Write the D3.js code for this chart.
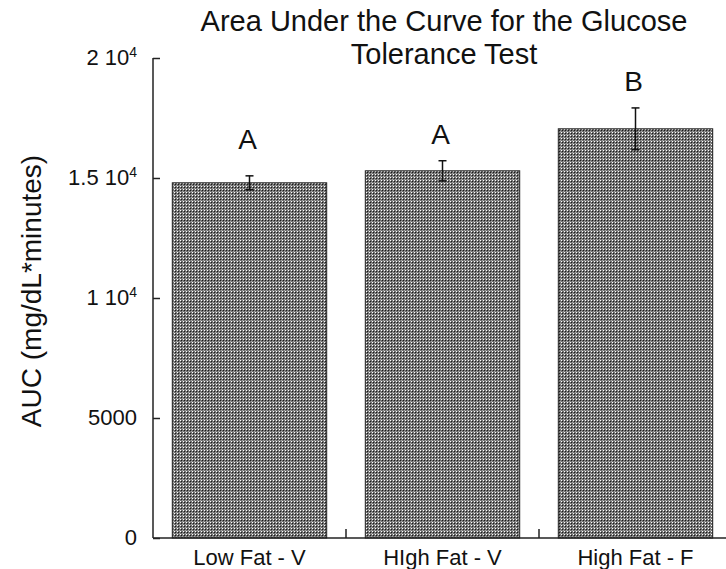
<!DOCTYPE html>
<html>
<head>
<meta charset="utf-8">
<script src="https://cdn.jsdelivr.net/npm/d3@7"></script>
<style>
  body { margin: 0; background: #fff; }
  text { font-family: "Liberation Sans", Arial, Helvetica, sans-serif; fill: #111; }
</style>
</head>
<body>
<script>
// chart data
const groups = ['Low Fat - V', 'HIgh Fat - V', 'High Fat - F'];
const auc = [14800, 15300, 17050];
const sem = [290, 420, 870];
const letters = ['A', 'A', 'B'];
const letterLevels = [16200, 16420, 18620];
const yTicks = [0, 5000, 10000, 15000, 20000];
const titleLines = ['Area Under the Curve for the Glucose', 'Tolerance Test'];

const width = 726;
const height = 569;

const svg = d3.select('body').append('svg')
    .attr('width', width)
    .attr('height', height);

// fine checkered fill like the original
const pat = svg.append('defs').append('pattern')
    .attr('id', 'dots')
    .attr('width', 3)
    .attr('height', 3)
    .attr('patternUnits', 'userSpaceOnUse')
    .attr('shape-rendering', 'crispEdges');
pat.append('rect').attr('width', 3).attr('height', 3).attr('fill', '#707070');
pat.append('rect').attr('x', 0).attr('y', 0).attr('width', 1).attr('height', 1).attr('fill', '#ffffff');
pat.append('rect').attr('x', 1).attr('y', 1).attr('width', 1).attr('height', 1).attr('fill', '#1a1a1a');
pat.append('rect').attr('x', 2).attr('y', 2).attr('width', 1).attr('height', 1).attr('fill', '#a8a8a8');

const x = d3.scaleBand()
    .domain(groups)
    .range([153, 732])
    .paddingInner(0.2)
    .paddingOuter(0.1);

const y = d3.scaleLinear()
    .domain([0, 20000])
    .range([538, 58]);

// bars
svg.append('g').selectAll('rect')
    .data(groups)
    .enter().append('rect')
    .attr('x', d => x(d))
    .attr('y', (d, i) => y(auc[i]))
    .attr('width', x.bandwidth())
    .attr('height', (d, i) => y(0) - y(auc[i]))
    .attr('fill', 'url(#dots)')
    .attr('stroke', '#222')
    .attr('stroke-width', 1);

// error bars
const err = svg.append('g').attr('stroke', '#111').attr('stroke-width', 1.5);
groups.forEach((g, i) => {
    const cx = x(g) + x.bandwidth() / 2;
    const hi = y(auc[i] + sem[i]);
    const lo = y(auc[i] - sem[i]);
    err.append('line').attr('x1', cx).attr('x2', cx).attr('y1', hi).attr('y2', lo);
    err.append('line').attr('x1', cx - 4).attr('x2', cx + 4).attr('y1', hi).attr('y2', hi);
    err.append('line').attr('x1', cx - 4).attr('x2', cx + 4).attr('y1', lo).attr('y2', lo);
});

// significance letters
svg.append('g').selectAll('text')
    .data(groups)
    .enter().append('text')
    .attr('x', d => x(d) + x.bandwidth() / 2 - 2)
    .attr('y', (d, i) => y(letterLevels[i]))
    .attr('text-anchor', 'middle')
    .style('font-size', '28px')
    .text((d, i) => letters[i]);

// y axis
const yAxis = svg.append('g')
    .attr('transform', 'translate(153,0)')
    .call(d3.axisLeft(y).tickValues(yTicks).tickSize(-7).tickPadding(15).tickFormat(''));
yAxis.select('.domain').attr('d', 'M0,' + y(20000) + 'V' + y(0));
yAxis.selectAll('line, path').attr('stroke', '#222').attr('stroke-width', 1.5);

const yLab = yAxis.selectAll('.tick').append('text')
    .attr('x', -16)
    .attr('dy', '0.3em')
    .attr('text-anchor', 'end')
    .style('font-size', '22px');
yLab.each(function (d) {
    const t = d3.select(this);
    if (d >= 10000) {
        t.append('tspan').text(d3.format('.2~')(d / 10000) + ' 10');
        t.append('tspan').attr('dy', '-0.55em').style('font-size', '14px').text('4');
    } else {
        t.text(d);
    }
});

// x axis
const xAxis = svg.append('g')
    .attr('transform', 'translate(0,' + y(0) + ')');
xAxis.append('line')
    .attr('x1', 153).attr('x2', width)
    .attr('stroke', '#222').attr('stroke-width', 1.5);
xAxis.selectAll('.sep')
    .data(groups.slice(1))
    .enter().append('line')
    .attr('class', 'sep')
    .attr('x1', d => x(d) - x.step() * x.paddingInner() / 2)
    .attr('x2', d => x(d) - x.step() * x.paddingInner() / 2)
    .attr('y1', 0).attr('y2', -9)
    .attr('stroke', '#222').attr('stroke-width', 1.5);
xAxis.selectAll('.lab')
    .data(groups)
    .enter().append('text')
    .attr('class', 'lab')
    .attr('x', d => x(d) + x.bandwidth() / 2)
    .attr('y', 27)
    .attr('text-anchor', 'middle')
    .style('font-size', '22px')
    .text(d => d);

// y axis title
svg.append('text')
    .attr('transform', 'translate(41,291) rotate(-90)')
    .attr('text-anchor', 'middle')
    .style('font-size', '28px')
    .text('AUC (mg/dL*minutes)');

// chart title
svg.append('g').selectAll('text')
    .data(titleLines)
    .enter().append('text')
    .attr('x', 444)
    .attr('y', (d, i) => 31 + i * 33)
    .attr('text-anchor', 'middle')
    .style('font-size', '29px')
    .text(d => d);
</script>
</body>
</html>
